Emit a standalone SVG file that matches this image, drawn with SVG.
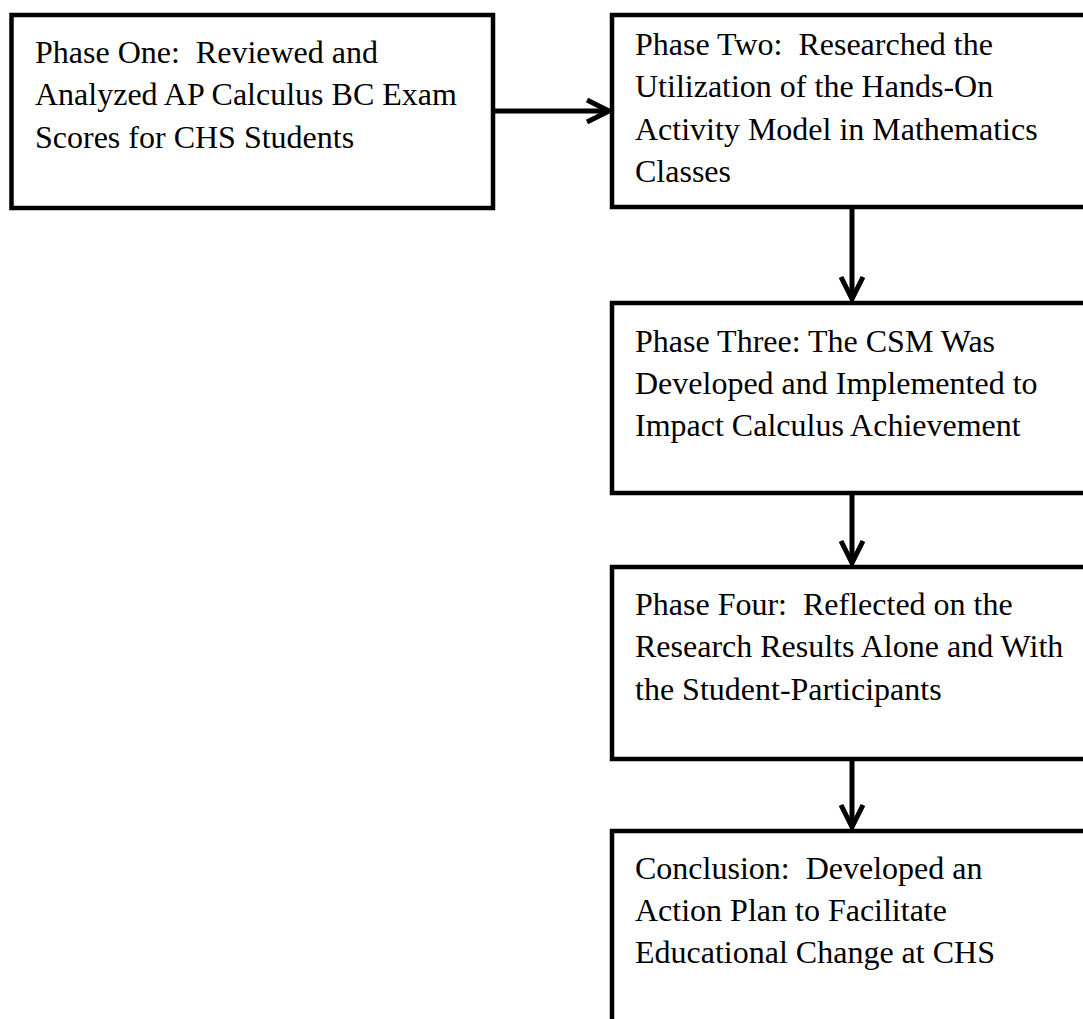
<svg xmlns="http://www.w3.org/2000/svg" width="1083" height="1019" viewBox="0 0 1083 1019">
<style>
.box{fill:#fff;stroke:#000;stroke-width:4.5}
.lbl{font-family:"Liberation Serif","Times New Roman",serif;font-size:32px;fill:#000;white-space:pre}
.conn{stroke:#000;stroke-width:5;fill:none}
</style>
<defs>
<marker id="arr" markerUnits="userSpaceOnUse" markerWidth="40" markerHeight="40" viewBox="-30 -20 40 40" refX="0" refY="0" orient="auto" overflow="visible">
<path d="M-22,-11 L0,0 L-22,11" fill="none" stroke="#000" stroke-width="5" stroke-linejoin="miter"/>
</marker>
</defs>
<rect width="1083" height="1019" fill="#fff"/>
<g id="phase-one">
<rect class="box" x="11.5" y="15" width="481.5" height="193"/>
<text class="lbl" x="35" y="63">Phase One:  Reviewed and</text>
<text class="lbl" x="35" y="105.3">Analyzed AP Calculus BC Exam</text>
<text class="lbl" x="35" y="147.6">Scores for CHS Students</text>
</g>
<g id="phase-two">
<rect class="box" x="612" y="15" width="500" height="192"/>
<text class="lbl" x="635" y="55">Phase Two:  Researched the</text>
<text class="lbl" x="635" y="97.3">Utilization of the Hands-On</text>
<text class="lbl" x="635" y="139.6">Activity Model in Mathematics</text>
<text class="lbl" x="635" y="182">Classes</text>
</g>
<g id="phase-three">
<rect class="box" x="612" y="303" width="500" height="190"/>
<text class="lbl" x="635" y="351.5">Phase Three: The CSM Was</text>
<text class="lbl" x="635" y="393.8">Developed and Implemented to</text>
<text class="lbl" x="635" y="436">Impact Calculus Achievement</text>
</g>
<g id="phase-four">
<rect class="box" x="612" y="567" width="500" height="192"/>
<text class="lbl" x="635" y="615">Phase Four:  Reflected on the</text>
<text class="lbl" x="635" y="657.3">Research Results Alone and With</text>
<text class="lbl" x="635" y="699.6">the Student-Participants</text>
</g>
<g id="conclusion">
<rect class="box" x="612" y="831" width="500" height="220"/>
<text class="lbl" x="635" y="878.5">Conclusion:  Developed an</text>
<text class="lbl" x="635" y="920.8">Action Plan to Facilitate</text>
<text class="lbl" x="635" y="963">Educational Change at CHS</text>
</g>
<g id="connectors">
<line class="conn" x1="495" y1="111" x2="609" y2="111" marker-end="url(#arr)"/>
<line class="conn" x1="852" y1="209" x2="852" y2="299" marker-end="url(#arr)"/>
<line class="conn" x1="852" y1="495" x2="852" y2="563" marker-end="url(#arr)"/>
<line class="conn" x1="852" y1="761" x2="852" y2="827" marker-end="url(#arr)"/>
</g>
</svg>
